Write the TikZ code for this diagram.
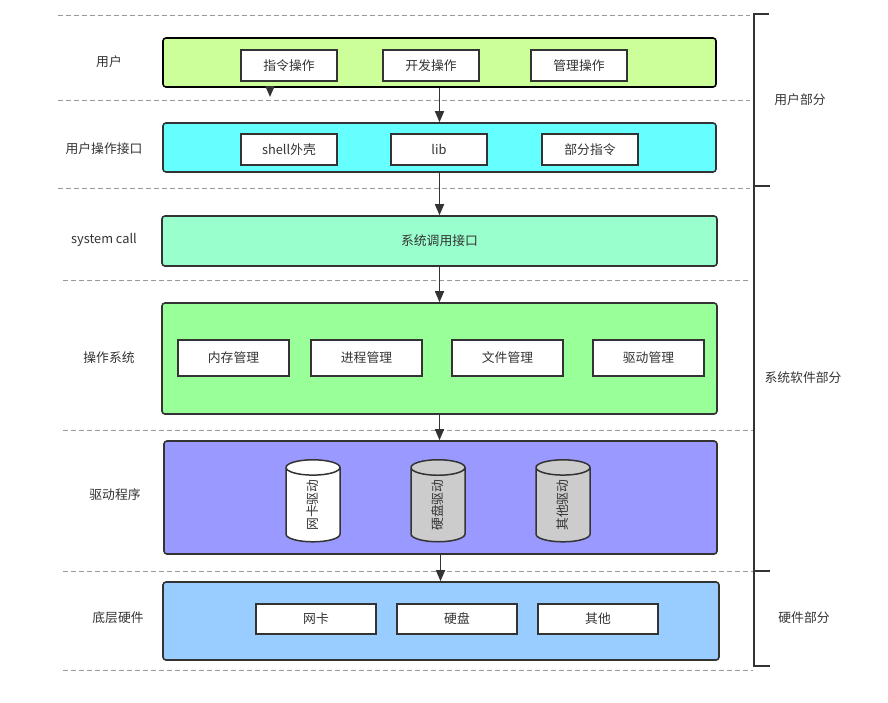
\documentclass[tikz,border=0pt]{standalone}
\usepackage{fontspec}
\setmainfont{Noto Sans CJK SC}
\usetikzlibrary{arrows.meta,shapes.geometric}

\definecolor{ink}{HTML}{333333}
\definecolor{sepgray}{HTML}{999999}
\definecolor{cUser}{HTML}{CCFF99}
\definecolor{cShell}{HTML}{66FFFF}
\definecolor{cCall}{HTML}{99FFCC}
\definecolor{cOs}{HTML}{99FF99}
\definecolor{cDrv}{HTML}{9999FF}
\definecolor{cHw}{HTML}{99CCFF}
\definecolor{cDisk}{HTML}{CCCCCC}

\tikzset{
  layer/.style={draw=ink, line width=1.6pt, rounded corners=3pt},
  item/.style={draw=ink, fill=white, line width=1.6pt, text=ink, minimum height=31},
  drum/.style={cylinder, draw=ink, line width=1.5pt, rotate=90, aspect=1.3,
    minimum width=54, minimum height=82, text=ink, inner sep=0pt},
  side/.style={text=ink},
  sep/.style={draw=sepgray, line width=0.9pt, dash pattern=on 5pt off 3pt},
  bracket/.style={draw=ink, line width=1.6pt},
  flow/.style={draw=ink, line width=1.6pt, ->}
}

\begin{document}
\begin{tikzpicture}[x=1pt, y=-1pt, font=\fontsize{12.8}{15}\selectfont,
  >={Triangle[length=11pt, width=9pt]}]
\useasboundingbox (0,0) rectangle (888,702);

% separators
\draw[sep] (58,15) -- (750,15);
\draw[sep] (58,100) -- (750,100);
\draw[sep] (58,188) -- (750,188);
\draw[sep] (63,280) -- (750,280);
\draw[sep] (63,430) -- (753,430);
\draw[sep] (63,571) -- (753,571);
\draw[sep] (63,670) -- (753,670);

% layers
\node[layer, draw=black, fill=cUser, minimum width=553, minimum height=49] (user) at (439.5,62.5) {};
\node[layer, fill=cShell, minimum width=553, minimum height=49] (ui) at (439.5,147.5) {};
\node[layer, fill=cCall, minimum width=555, minimum height=50, text=ink] (sc) at (439.5,241) {系统调用接口};
\node[layer, fill=cOs, minimum width=555, minimum height=111] (os) at (439.5,358.5) {};
\node[layer, fill=cDrv, minimum width=553, minimum height=113] (drv) at (440.5,497.5) {};
\node[layer, fill=cHw, minimum width=556, minimum height=78] (hw) at (441,621) {};

% left labels
\node[side] (lUser) at (109,62) {用户};
\node[side] (lUi) at (104,149) {用户操作接口};
\node[side] (lSc) at (104,240) {system call};
\node[side] (lOs) at (109,358) {操作系统};
\node[side] (lDrv) at (115,495) {驱动程序};
\node[side] (lHw) at (118,618) {底层硬件};

% items
\node[item, minimum width=96] (cmd) at (289,65.5) {指令操作};
\node[item, minimum width=96] (dev) at (431,65.5) {开发操作};
\node[item, minimum width=96] (mgr) at (579,65.5) {管理操作};

\node[item, minimum width=96] (shell) at (289,149.5) {shell外壳};
\node[item, minimum width=96] (lib) at (439,149.5) {lib};
\node[item, minimum width=96] (part) at (590,149.5) {部分指令};

\node[item, minimum width=111, minimum height=36] (mem) at (233.5,358) {内存管理};
\node[item, minimum width=111, minimum height=36] (proc) at (366.5,358) {进程管理};
\node[item, minimum width=111, minimum height=36] (file) at (507.5,358) {文件管理};
\node[item, minimum width=111, minimum height=36] (dmgr) at (648.5,358) {驱动管理};

\node[drum, fill=white] (nic) at (313,505) {网卡驱动};
\node[drum, fill=cDisk] (disk) at (438,505) {硬盘驱动};
\node[drum, fill=cDisk] (other) at (563,505) {其他驱动};

\node[item, minimum width=120, minimum height=30] (card) at (316,619) {网卡};
\node[item, minimum width=120, minimum height=30] (hd) at (457,619) {硬盘};
\node[item, minimum width=120, minimum height=30] (misc) at (598,619) {其他};

% arrows
\coordinate (tip) at (270,97);
\draw[flow] (tip |- user.south) -- (tip);
\draw[flow] (user.south) -- (user.south |- ui.north);
\draw[flow] (ui.south) -- (ui.south |- sc.north);
\draw[flow] (sc.south) -- (sc.south |- os.north);
\draw[flow] (os.south) -- (os.south |- drv.north);
\draw[flow] (drv.south) -- (drv.south |- hw.north);

% brackets
\draw[bracket] (769,14) -- (754,14) -- (754,666) -- (770,666);
\draw[bracket] (754,186) -- (770,186);
\draw[bracket] (754,571) -- (770,571);
\node[side] (pUser) at (800,100) {用户部分};
\node[side] (pSys) at (803,378) {系统软件部分};
\node[side] (pHw) at (804,618) {硬件部分};
\end{tikzpicture}
\end{document}
